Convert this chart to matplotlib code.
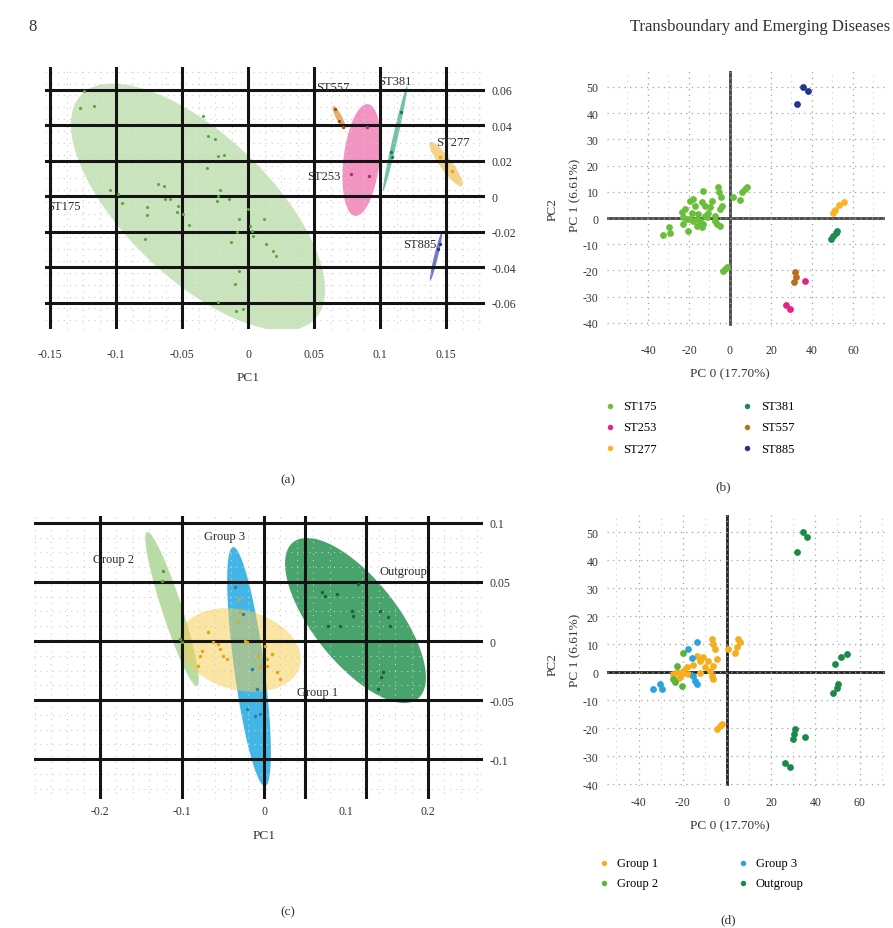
import numpy as np
import matplotlib.pyplot as plt

plt.rcParams['font.family'] = ['Liberation Serif', 'DejaVu Serif']
plt.rcParams['axes.unicode_minus'] = False

# ---------------- panel (a): ST types, 95% ellipses ----------------
a_st175_x = [-0.127, -0.117, -0.124, -0.034, -0.030, -0.025, -0.023, -0.018, -0.031, -0.068,
             -0.064, -0.1045, -0.0985, -0.0955, -0.0765, -0.0765, -0.063, -0.059, -0.053, -0.054,
             -0.049, -0.0447, -0.0212, -0.0227, -0.0235, -0.0144, -0.0068, 0.0, 0.0015, 0.003,
             0.0038, 0.012, -0.0083, -0.0129, 0.0136, 0.019, 0.021, -0.0068, -0.0098, -0.078,
             -0.0227, -0.009, -0.0038]
a_st175_y = [0.0496, 0.0507, 0.059, 0.045, 0.034, 0.032, 0.0225, 0.023, 0.0158, 0.0068,
             0.0056, 0.0034, 0.0011, -0.0039, -0.0062, -0.0107, -0.0017, -0.0017, -0.0056, -0.009,
             -0.0101, -0.0163, 0.0034, 0.0, -0.0028, -0.0017, -0.013, -0.0073, -0.0169, -0.0197,
             -0.0225, -0.013, -0.0203, -0.0259, -0.027, -0.031, -0.0338, -0.0423, -0.0496, -0.0242,
             -0.0597, -0.0648, -0.0637]
a_st557_x = [0.066, 0.069, 0.072]
a_st557_y = [0.049, 0.0423, 0.0389]
a_st253_x = [0.078, 0.0917, 0.0902]
a_st253_y = [0.0124, 0.0113, 0.0389]
a_st381_x = [0.116, 0.108, 0.109]
a_st381_y = [0.0473, 0.0248, 0.022]
a_st277_x = [0.1455, 0.1545]
a_st277_y = [0.022, 0.0141]
a_st885_x = [0.144, 0.1455]
a_st885_y = [-0.0299, -0.027]

# ellipse: centre, semi-major vector, semi-minor vector (data units)
a_ellipses = {
    'ST175': ((-0.0379, -0.0062), (0.0886, -0.0631), (-0.0377, -0.0292)),
    'ST253': ((0.086, 0.0203), (0.0049, 0.0315), (0.0136, -0.0012)),
    'ST381': ((0.1114, 0.0324), (0.0091, 0.0296), (0.0018, -0.0003)),
    'ST557': ((0.069, 0.0442), (0.0045, -0.0065), (-0.002, -0.0008)),
    'ST277': ((0.150, 0.018), (0.0121, -0.0124), (-0.0037, -0.002)),
    'ST885': ((0.1424, -0.0341), (0.0045, 0.0138), (0.0014, -0.0003)),
}

# ---------------- panel (b): PCA coloured by ST ----------------
b_st175_x = [-32.8, -29.6, -29.3, -23.6, -22.8, -23.1, -22.0, -20.3, -19.5, -17.9, -17.1, -19.5,
             -17.9, -16.3, -14.6, -13.8, -13.0, -12.2, -13.0, -13.8, -12.2, -11.4, -9.8, -8.9,
             -7.3, -7.3, -6.5, -4.9, -5.7, -5.2, -4.5, -4.1, -4.9, 1.6, 4.9, 5.7, 7.3, 8.1,
             -2.4, -1.3, -3.3, -21.1, -16.3, -10.6, -15.5, -18.5]
b_st175_y = [-6.4, -3.6, -5.8, 2.2, 0.3, -2.3, 3.4, -4.8, 6.6, 7.3, 4.7, -0.4,
             -1.0, -0.4, -1.0, 6.0, 10.4, 4.7, -2.3, -3.6, 0.9, 0.3, 4.1, 6.6,
             0.9, -1.0, -2.3, -2.9, 11.7, 9.8, 7.9, 4.7, 3.4, 8.1, 6.9, 9.8, 11.1, 11.7,
             -19.5, -18.6, -20.1, -0.4, -3.0, 2.0, 1.5, 2.0]
b_st253_x = [36.6, 27.3, 29.3]
b_st253_y = [-23.9, -33.1, -34.7]
b_st277_x = [50.2, 51.0, 53.3, 55.8]
b_st277_y = [2.0, 3.0, 5.1, 6.0]
b_st381_x = [49.3, 50.4, 51.7, 52.0]
b_st381_y = [-8.0, -7.0, -5.7, -4.8]
b_st557_x = [31.7, 32.0, 31.4]
b_st557_y = [-20.7, -22.6, -24.3]
b_st885_x = [35.5, 37.9, 32.5]
b_st885_y = [50.1, 48.4, 43.5]

# ---------------- panel (c): groups, 95% ellipses ----------------
c_out_x = [0.0704, 0.0744, 0.0887, 0.115, 0.107, 0.109, 0.0784, 0.0927, 0.1415, 0.1517,
           0.1537, 0.1455, 0.1427, 0.1394]
c_out_y = [0.0418, 0.0384, 0.0398, 0.0483, 0.0257, 0.0214, 0.013, 0.013, 0.0257, 0.0201,
           0.013, -0.0265, -0.0307, -0.0407]
c_g1_x = [-0.068, -0.062, -0.0558, -0.0537, -0.0497, -0.0455, -0.076, -0.078, -0.080, -0.0314,
          -0.0293, -0.0301, -0.0232, -0.0211, 0.0012, 0.0033, 0.0033, 0.0094, 0.0155, 0.0195,
          -0.007, -0.0049]
c_g1_y = [0.0074, -0.0011, -0.0025, -0.0068, -0.0125, -0.0152, -0.0082, -0.0125, -0.0209, 0.0158,
          0.0243, 0.0356, 0.0003, -0.0011, -0.004, -0.0152, -0.0209, -0.011, -0.0265, -0.0322,
          -0.0125, -0.0209]
c_g2_x = [-0.1229, -0.1248, -0.1025, -0.1004]
c_g2_y = [0.0595, 0.0511, 0.0017, -0.0011]
c_g3_x = [-0.0354, -0.0253, -0.015, -0.0089, -0.0211, -0.011, -0.0049]
c_g3_y = [0.0455, 0.0229, -0.0237, -0.0407, -0.0576, -0.0633, -0.0618]

c_ellipses = {
    'Group 2': ((-0.1122, 0.0271), (0.0305, -0.0652), (-0.0116, -0.0026)),
    'Group 3': ((-0.0183, -0.0216), (0.0195, -0.1012), (-0.0182, -0.0017)),
    'Outgroup': ((0.1116, 0.0174), (0.076, -0.0663), (-0.0401, -0.0222)),
    'Group 1': ((-0.0293, -0.0076), (0.0732, -0.0136), (-0.0127, -0.0327)),
}

# ---------------- panel (d): PCA coloured by group ----------------
d_g1_x = [-24.3, -22.8, -20.5, -19.8, -18.2, -17.5, -13.7, -12.2, -10.7, -10.0, -8.5, -12.2,
          -6.9, -6.2, -5.4, -4.7, -6.2, -7.7, -6.9, -6.2, 0.6, 3.6, 5.9, 5.1, 4.4,
          -4.7, -3.2, -2.4, -21.5, -15.5]
d_g1_y = [-0.7, -0.1, -0.7, 0.5, 1.7, -0.7, 5.8, 4.0, 5.3, 1.7, 4.0, -0.4,
          11.8, 10.0, 8.2, 4.6, 2.3, 0.5, -1.3, -2.5, 8.2, 7.0, 10.6, 11.8, 8.8,
          -20.4, -19.2, -18.6, -2.0, 2.5]
d_g2_x = [-20.0, -22.8, -24.3, -23.5, -20.5]
d_g2_y = [6.7, 2.3, -2.5, -3.7, -4.9]
d_g3_x = [-33.3, -30.3, -29.5, -13.4, -17.5, -16.0, -15.2, -14.5, -13.7]
d_g3_y = [-6.1, -4.3, -6.1, 10.6, 8.2, 5.2, -1.3, -3.1, -4.3]
d_out_x = [34.3, 36.3, 31.5, 48.9, 51.6, 54.2, 48.1, 49.6, 50.4, 30.8, 30.3, 30.0, 35.3, 26.2, 28.5]
d_out_y = [49.9, 48.1, 43.0, 2.9, 5.3, 6.4, -7.3, -5.5, -4.3, -20.4, -22.1, -23.9, -23.3, -32.3, -34.0]


def draw_ellipse(ax, params, color, alpha, z):
    (cx, cy), (mx, my), (nx, ny) = params
    t = np.linspace(0, 2 * np.pi, 240)
    xs = cx + mx * np.cos(t) + nx * np.sin(t)
    ys = cy + my * np.cos(t) + ny * np.sin(t)
    ax.fill(xs, ys, color=color, alpha=alpha, lw=0, zorder=z)


def heavy_grid(ax, xs, ys):
    for v in xs:
        ax.axvline(v, color='#141414', lw=2.2, zorder=3)
    for h in ys:
        ax.axhline(h, color='#141414', lw=2.2, zorder=3)


def strip(ax):
    for s in ax.spines.values():
        s.set_visible(False)
    ax.tick_params(which='both', length=0, colors='#333333')


fig = plt.figure(figsize=(8.93, 9.29), dpi=100)

# ---- (a)
ax_a = fig.add_axes([0.0504, 0.6448, 0.4927, 0.282])
strip(ax_a)
ax_a.set_xlim(-0.1538, 0.1795)
ax_a.set_ylim(-0.0749, 0.0727)
ax_a.set_xticks([-0.15, -0.1, -0.05, 0, 0.05, 0.1, 0.15])
ax_a.set_xticklabels(['-0.15', '-0.1', '-0.05', '0', '0.05', '0.1', '0.15'])
ax_a.set_yticks([-0.06, -0.04, -0.02, 0, 0.02, 0.04, 0.06])
ax_a.set_yticklabels(['-0.06', '-0.04', '-0.02', '0', '0.02', '0.04', '0.06'])
ax_a.set_xticks(np.arange(-0.15, 0.18, 0.0125), minor=True)
ax_a.set_yticks(np.arange(-0.07, 0.075, 0.00667), minor=True)
ax_a.yaxis.tick_right()
ax_a.tick_params(axis='x', pad=14, labelsize=8.5)
ax_a.tick_params(axis='y', pad=5, labelsize=8.5)
ax_a.set_axisbelow(False)
ax_a.grid(which='minor', color='#cdcdcd', lw=0.8, ls=(0, (1, 4.5)), zorder=2)
heavy_grid(ax_a, [-0.15, -0.1, -0.05, 0, 0.05, 0.1, 0.15],
           [-0.06, -0.04, -0.02, 0, 0.02, 0.04, 0.06])

draw_ellipse(ax_a, a_ellipses['ST175'], '#9fd08a', 0.55, 1)
draw_ellipse(ax_a, a_ellipses['ST253'], '#ee6fae', 0.75, 1)
draw_ellipse(ax_a, a_ellipses['ST381'], '#4fb58a', 0.8, 1)
draw_ellipse(ax_a, a_ellipses['ST557'], '#e09a4a', 0.8, 1)
draw_ellipse(ax_a, a_ellipses['ST277'], '#f5c560', 0.75, 1)
draw_ellipse(ax_a, a_ellipses['ST885'], '#4a5ab8', 0.8, 1)

ax_a.scatter(a_st175_x, a_st175_y, s=5, color='#55a83a', zorder=4, lw=0)
ax_a.scatter(a_st253_x, a_st253_y, s=6, color='#b82c68', zorder=4, lw=0)
ax_a.scatter(a_st381_x, a_st381_y, s=6, color='#1f7a50', zorder=4, lw=0)
ax_a.scatter(a_st557_x, a_st557_y, s=6, color='#9a5a14', zorder=4, lw=0)
ax_a.scatter(a_st277_x, a_st277_y, s=6, color='#e0a030', zorder=4, lw=0)
ax_a.scatter(a_st885_x, a_st885_y, s=6, color='#26348f', zorder=4, lw=0)

lab_kw = dict(fontsize=9, color='#2a2a2a', zorder=5, va='center')
ax_a.text(-0.1523, -0.0056, 'ST175', ha='left', **lab_kw)
ax_a.text(0.0644, 0.0614, 'ST557', ha='center', **lab_kw)
ax_a.text(0.1114, 0.0648, 'ST381', ha='center', **lab_kw)
ax_a.text(0.1553, 0.0304, 'ST277', ha='center', **lab_kw)
ax_a.text(0.0576, 0.0113, 'ST253', ha='center', **lab_kw)
ax_a.text(0.1303, -0.027, 'ST885', ha='center', **lab_kw)

# ---- (c)
ax_c = fig.add_axes([0.0381, 0.1389, 0.5028, 0.3046])
strip(ax_c)
ax_c.set_xlim(-0.2806, 0.2672)
ax_c.set_ylim(-0.1338, 0.1059)
ax_c.set_xticks([-0.2, -0.1, 0, 0.1, 0.2])
ax_c.set_xticklabels(['-0.2', '-0.1', '0', '0.1', '0.2'])
ax_c.set_yticks([-0.1, -0.05, 0, 0.05, 0.1])
ax_c.set_yticklabels(['-0.1', '-0.05', '0', '0.05', '0.1'])
ax_c.set_xticks(np.arange(-0.28, 0.27, 0.02), minor=True)
ax_c.set_yticks(np.arange(-0.125, 0.1, 0.0125), minor=True)
ax_c.yaxis.tick_right()
ax_c.tick_params(axis='x', pad=4, labelsize=8.5)
ax_c.tick_params(axis='y', pad=5, labelsize=8.5)
ax_c.set_axisbelow(False)
ax_c.grid(which='minor', color='#cdcdcd', lw=0.8, ls=(0, (1, 4.5)), zorder=2)
heavy_grid(ax_c, [-0.2, -0.1, 0, 0.05, 0.125, 0.2], [-0.1, -0.05, 0, 0.05, 0.1])

draw_ellipse(ax_c, c_ellipses['Group 2'], '#94c874', 0.65, 1)
draw_ellipse(ax_c, c_ellipses['Group 3'], '#2eaee6', 0.9, 1.1)
draw_ellipse(ax_c, c_ellipses['Outgroup'], '#35995c', 0.9, 1.2)
draw_ellipse(ax_c, c_ellipses['Group 1'], '#f7cd4b', 0.5, 1.3)

ax_c.scatter(c_out_x, c_out_y, s=6, color='#17643a', zorder=4, lw=0)
ax_c.scatter(c_g1_x, c_g1_y, s=6, color='#e6a414', zorder=4, lw=0)
ax_c.scatter(c_g2_x, c_g2_y, s=6, color='#5a9a38', zorder=4, lw=0)
ax_c.scatter(c_g3_x, c_g3_y, s=6, color='#1f7fb0', zorder=4, lw=0)

ax_c.text(-0.183, 0.0695, 'Group 2', ha='center', **lab_kw)
ax_c.text(-0.0476, 0.0889, 'Group 3', ha='center', **lab_kw)
ax_c.text(0.1696, 0.0593, 'Outgroup', ha='center', **lab_kw)
ax_c.text(0.0659, -0.0432, 'Group 1', ha='center', **lab_kw)


# ---- (b) and (d): scatter with cross-hair axes
def pca_axes(rect, xlim, ylim, xpad, axis_col):
    ax = fig.add_axes(rect)
    strip(ax)
    ax.set_xlim(*xlim)
    ax.set_ylim(*ylim)
    ax.set_xticks([-40, -20, 0, 20, 40, 60])
    ax.set_xticks(np.arange(-50, 71, 10), minor=True)
    ax.set_yticks(np.arange(-40, 51, 10))
    ax.tick_params(axis='x', pad=xpad, labelsize=8.5)
    ax.tick_params(axis='y', pad=6, labelsize=8.5)
    ax.grid(which='major', color='#a0a0a0', lw=0.9, ls=(0, (1, 3.5)), zorder=0)
    ax.grid(which='minor', axis='x', color='#cccccc', lw=0.8, ls=(0, (1, 4)), zorder=0)
    ax.axhline(0, color=axis_col, lw=2.0, zorder=1)
    ax.axvline(0, color=axis_col, lw=2.0, zorder=1)
    return ax


ax_b = pca_axes([0.6797, 0.648, 0.3113, 0.2745], (-60, 75.6), (-41.2, 56.1), 13, '#444444')
pts_b = [
    (b_st175_x, b_st175_y, '#6abf3a', 'ST175'),
    (b_st253_x, b_st253_y, '#e0258a', 'ST253'),
    (b_st277_x, b_st277_y, '#f7b32b', 'ST277'),
    (b_st381_x, b_st381_y, '#1e8a50', 'ST381'),
    (b_st557_x, b_st557_y, '#b8701c', 'ST557'),
    (b_st885_x, b_st885_y, '#27328f', 'ST885'),
]
for xs, ys, col, name in pts_b:
    ax_b.scatter(xs, ys, s=24, color=col, lw=0, zorder=3, label=name)
ax_b.legend(loc='upper left', bbox_to_anchor=(0.659, 0.578), bbox_transform=fig.transFigure,
            ncol=2, frameon=False, fontsize=9, handletextpad=0.1, columnspacing=6.2,
            labelspacing=0.75, markerscale=0.8, borderpad=0.2)

ax_d = pca_axes([0.6797, 0.1528, 0.3113, 0.2917], (-54.3, 71.5), (-40.7, 56.1), 7, '#222222')
pts_d = [
    (d_g1_x, d_g1_y, '#f5ae1e', 'Group 1'),
    (d_g2_x, d_g2_y, '#58b53a', 'Group 2'),
    (d_g3_x, d_g3_y, '#2aa4dc', 'Group 3'),
    (d_out_x, d_out_y, '#1b8a48', 'Outgroup'),
]
for xs, ys, col, name in pts_d:
    ax_d.scatter(xs, ys, s=24, color=col, lw=0, zorder=3, label=name)
ax_d.legend(loc='upper left', bbox_to_anchor=(0.653, 0.086), bbox_transform=fig.transFigure,
            ncol=2, frameon=False, fontsize=9, handletextpad=0.0, columnspacing=5.8,
            labelspacing=0.68, markerscale=0.8, borderpad=0.2)

# ---- axis titles, panel letters, page header
tx = dict(fontsize=9.5, color='#333333', ha='center', va='center')
fig.text(0.2777, 0.5931, 'PC1', **tx)
fig.text(0.2956, 0.1001, 'PC1', **tx)
fig.text(0.8175, 0.5974, 'PC 0 (17.70%)', **tx)
fig.text(0.8175, 0.1109, 'PC 0 (17.70%)', **tx)
fig.text(0.6439, 0.790, 'PC 1 (6.61%)', rotation=90, **tx)
fig.text(0.619, 0.774, 'PC2', rotation=90, **tx)
fig.text(0.6439, 0.3003, 'PC 1 (6.61%)', rotation=90, **tx)
fig.text(0.619, 0.2842, 'PC2', rotation=90, **tx)

fig.text(0.3225, 0.4833, '(a)', **tx)
fig.text(0.8096, 0.4758, '(b)', **tx)
fig.text(0.3225, 0.0183, '(c)', **tx)
fig.text(0.8152, 0.0097, '(d)', **tx)

fig.text(0.037, 0.971, '8', fontsize=12, color='#333333', ha='center', va='center')
fig.text(0.9966, 0.971, 'Transboundary and Emerging Diseases', fontsize=12, color='#333333',
         ha='right', va='center')

fig.savefig('out.png', dpi=100)
